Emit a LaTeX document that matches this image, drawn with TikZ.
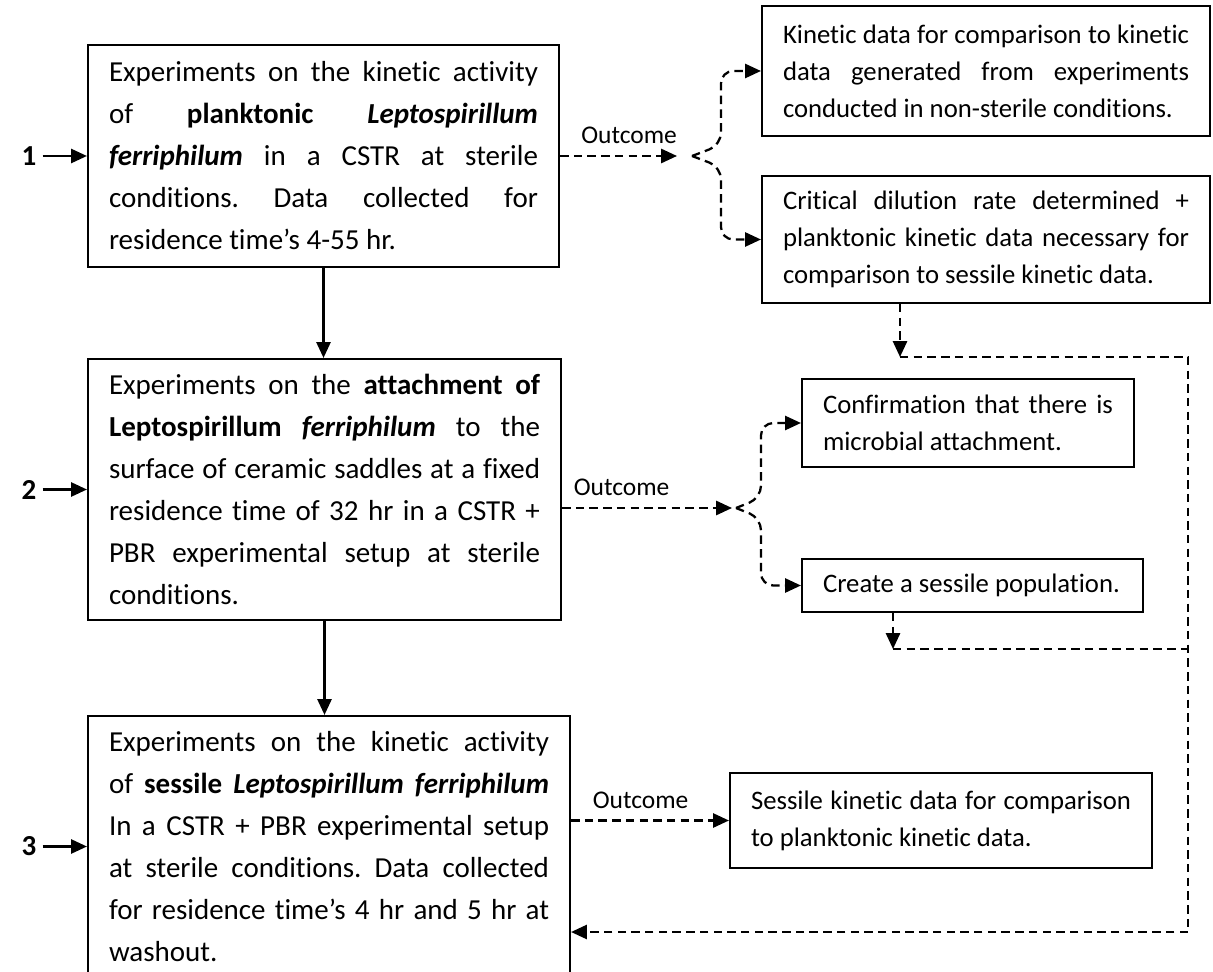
\documentclass[tikz,border=0pt]{standalone}
\usepackage{fontspec}
\setmainfont{Carlito}[Ligatures={NoCommon,NoRare},Contextuals=NoAlternate,RawFeature={-liga;-clig;-calt;-dlig}]
\usetikzlibrary{arrows.meta}
\frenchspacing
\tikzset{
	stage box/.style={
		draw,
		rectangle,
		line width=1.2pt,
		align=justify,
		inner xsep=0.42cm,
		inner ysep=0pt,
		font=\fontsize{16.5}{23.9}\selectfont
	},
	outcome box/.style={
		stage box,
		font=\fontsize{15.2}{21}\selectfont
	},
	stage number/.style={
		font=\fontsize{16.5}{20}\selectfont\bfseries
	},
	outcome label/.style={
		font=\fontsize{14.5}{17}\selectfont
	},
}

\begin{document}
\begin{tikzpicture}
\tikzset{flow/.style = {
		line width = 1.3pt,
		-{Triangle[length=9pt,width=8pt]}}}
\tikzset{outcome line/.style = {
		line width = 1.3pt,
		dash pattern = on 4.8pt off 3pt}}
\tikzset{outcome flow/.style = {
		flow,
		outcome line}}

\clip (0,0) rectangle (24.26,-19.44);

\node[stage box, text width=8.58cm, minimum height=4.44cm] (plankExp) at (6.47,-3.12)
	{Experiments on the kinetic activity\linebreak
	of \textbf{planktonic} \textbf{\textit{Leptospirillum}}\linebreak
	\textbf{\textit{ferriphilum}} in a CSTR at sterile\linebreak
	conditions. Data collected for\linebreak
	residence time’s 4-55 hr.};
	\node[stage box, text width=8.62cm, minimum height=5.22cm] (attachExp) at (6.49,-9.79)
		{Experiments on the \textbf{attachment of}\linebreak
		\textbf{Leptospirillum} \textbf{\textit{ferriphilum}} to the\linebreak
		surface of ceramic saddles at a fixed\linebreak
		residence time of 32 hr in a CSTR +\linebreak
		PBR experimental setup at sterile\linebreak
		conditions.};
		\node[stage box, text width=8.80cm, minimum height=5.22cm] (sessileExp) at (6.58,-16.93)
			{Experiments on the kinetic activity\linebreak
			of \textbf{sessile \textit{Leptospirillum ferriphilum}}\linebreak
			In a CSTR + PBR experimental setup\linebreak
			at sterile conditions. Data collected\linebreak
			for residence time’s 4 hr and 5 hr at\linebreak
			washout.};

\node[stage number] (num1) at (0.58,-3.12) {1};
\node[stage number] (num2) at (0.58,-9.79) {2};
\node[stage number] (num3) at (0.58,-16.93) {3};

\node[outcome box, text width=8.12cm, minimum height=2.60cm] (kineticData) at (19.72,-1.42)
	{Kinetic data for comparison to kinetic\linebreak
	data generated from experiments\linebreak
	conducted in non-sterile conditions.};
\node[outcome box, text width=8.12cm, minimum height=2.54cm] (criticalRate) at (19.72,-4.79)
	{Critical dilution rate determined +\linebreak
	planktonic kinetic data necessary for\linebreak
	comparison to sessile kinetic data.};
	\node[outcome box, text width=5.80cm, minimum height=1.76cm] (confirmAttach) at (19.36,-8.46)
		{Confirmation that there is\linebreak
		microbial attachment.};
	\node[outcome box, text width=5.98cm, minimum height=1.06cm] (sessilePop) at (19.45,-11.71)
		{Create a sessile population.};
		\node[outcome box, text width=7.60cm, minimum height=1.90cm] (sessileData) at (18.82,-16.41)
			{Sessile kinetic data for comparison\linebreak
			to planktonic kinetic data.};

\coordinate (plankOut) at (13.54,-3.12);
\coordinate (plankFork) at (13.84,-3.12);
\coordinate (attachOut) at (14.64,-10.16);
\coordinate (attachFork) at (14.72,-10.16);
\coordinate (criticalDrop) at (18.00,-7.14);
\coordinate (popDrop) at (17.86,-12.98);
\coordinate (loopTop) at (23.76,-7.14);
\coordinate (loopBottom) at (23.76,-18.64);

\draw[flow] (num1) -- (plankExp);
\draw[flow] (num2) -- (attachExp);
\draw[flow] (num3) -- (sessileExp);
\draw[flow] (plankExp.south) -- (plankExp.south |- attachExp.north);
\draw[flow] (attachExp.south) -- (attachExp.south |- sessileExp.north);

\draw[outcome flow] (plankExp) -- node[outcome label, pos=0.59, above=3pt] {Outcome} (plankOut);
\draw[outcome flow, rounded corners=7pt] (plankFork) -- ++(0.58,0.22) |- (kineticData);
\draw[outcome flow, rounded corners=7pt] (plankFork) -- ++(0.58,-0.22) |- (criticalRate);

\draw[outcome flow] (attachExp.east |- attachOut) -- node[outcome label, pos=0.35, above=3pt] {Outcome} (attachOut);
\draw[outcome flow, rounded corners=7pt] (attachFork) -- ++(0.5,0.2) |- (confirmAttach);
\draw[outcome flow, rounded corners=7pt] (attachFork) -- ++(0.5,-0.2) |- (sessilePop);

\draw[outcome flow] (sessileExp.east |- sessileData) -- node[outcome label, pos=0.44, above=3pt] {Outcome} (sessileData);

\draw[outcome flow] (criticalRate.south -| criticalDrop) -- (criticalDrop);
\draw[outcome line] (criticalDrop) -- (loopTop) -- (loopBottom);
\draw[outcome flow] (loopBottom) -- (loopBottom -| sessileExp.east);
\draw[outcome flow] (sessilePop.south -| popDrop) -- (popDrop);
\draw[outcome line] (popDrop) -- (popDrop -| loopTop);

\end{tikzpicture}
\end{document}
